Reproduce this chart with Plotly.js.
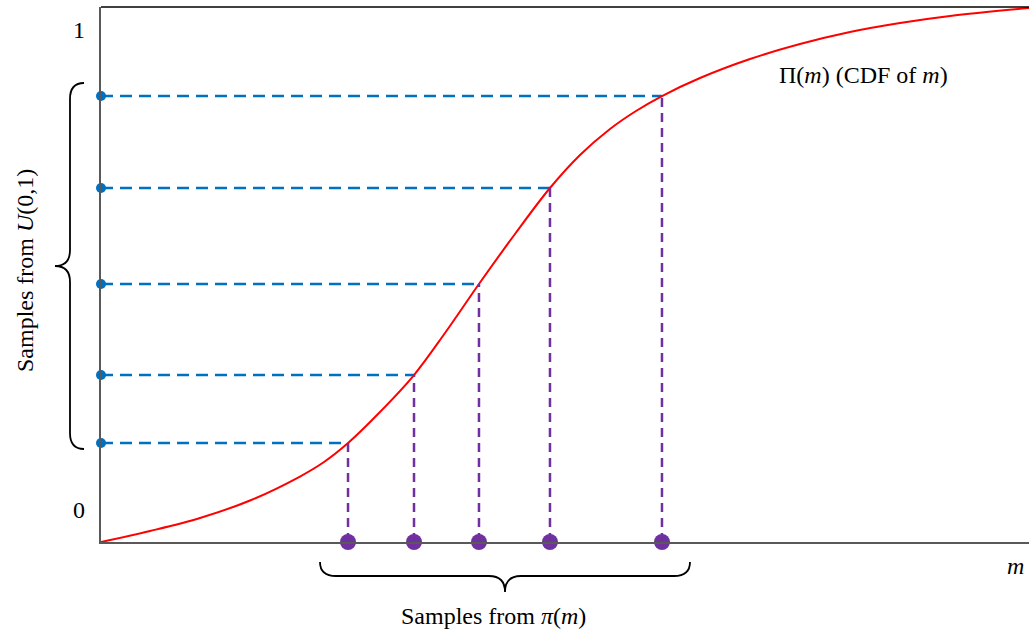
<!DOCTYPE html>
<html>
<head>
<meta charset="utf-8">
<script src="https://cdn.plot.ly/plotly-3.0.1.min.js"></script>
<style>html,body{margin:0;padding:0;background:#fff;}#chart{width:1029px;height:632px;}</style>
</head>
<body>
<div id="chart"></div>
<script>
// CDF curve Π(m), normalised m and Π(m)
const curveM   = [0, 0.0528, 0.1067, 0.1606, 0.2144, 0.2403, 0.2662, 0.3006, 0.3373, 0.3707, 0.4073, 0.4461, 0.4838, 0.5162, 0.5485, 0.5765, 0.6045, 0.6455, 0.6994, 0.7532, 0.8071, 0.8610, 0.9149, 1.0];
const curveCDF = [0, 0.0206, 0.0449, 0.0776, 0.1224, 0.1495, 0.1850, 0.2430, 0.3121, 0.3907, 0.4822, 0.5757, 0.6617, 0.7234, 0.7720, 0.8056, 0.8336, 0.8673, 0.9028, 0.9308, 0.9533, 0.9701, 0.9832, 0.9981];
// Samples from U(0,1) and their mapped samples from π(m)
const uSamples = [0.1850, 0.3121, 0.4822, 0.6617, 0.8336];
const mSamples = [0.2662, 0.3373, 0.4073, 0.4838, 0.6045];
// Labels
const yTickLabels = ["0", "1"];
const curveLabel = "Π(<i>m</i>) (CDF of <i>m</i>)";
const xAxisLabel = "<i>m</i>";
const bottomLabel = "Samples from <i>π</i>(<i>m</i>)";
const leftLabel = "Samples from <i>U</i>(0,1)";

const W = 1029, H = 632, L = 101, T = 7, B = 90, R = 0;
const PW = W - L - R, PH = H - T - B;
const px = v => (v - L) / PW;          // pixel x -> paper x
const py = v => (H - B - v) / PH;      // pixel y -> paper y

const hx = [], hy = [], vx = [], vy = [];
mSamples.forEach((m, i) => {
  hx.push(0, m, null); hy.push(uSamples[i], uSamples[i], null);
  vx.push(m, m, null); vy.push(0, uSamples[i], null);
});

const traces = [
  {x: hx, y: hy, mode: 'lines', line: {color: '#0070C0', width: 2.5, dash: '12px,7px'}, hoverinfo: 'skip', cliponaxis: false},
  {x: curveM, y: curveCDF, mode: 'lines', line: {color: '#FF0000', width: 2, shape: 'spline', smoothing: 1}, hoverinfo: 'skip'},
  {x: vx, y: vy, mode: 'lines', line: {color: '#7030A0', width: 2.5, dash: '9px,6px'}, hoverinfo: 'skip', cliponaxis: false},
  {x: uSamples.map(() => 0), y: uSamples, mode: 'markers', marker: {color: '#0070C0', size: 10}, cliponaxis: false, hoverinfo: 'skip'},
  {x: mSamples, y: mSamples.map(() => 0), mode: 'markers', marker: {color: '#7030A0', size: 16}, cliponaxis: false, hoverinfo: 'skip'}
];

function hBrace(x0, x1, y0, ym, yt, r) {
  const xm = (x0 + x1) / 2;
  const p = (a, b) => px(a).toFixed(5) + ',' + py(b).toFixed(5);
  return 'M' + p(x0, y0) + ' Q' + p(x0, ym) + ' ' + p(x0 + r, ym) +
         ' L' + p(xm - r, ym) + ' Q' + p(xm, ym) + ' ' + p(xm, yt) +
         ' Q' + p(xm, ym) + ' ' + p(xm + r, ym) +
         ' L' + p(x1 - r, ym) + ' Q' + p(x1, ym) + ' ' + p(x1, y0);
}
function vBrace(y0, y1, x0, xm, xt, r) {
  const ymid = (y0 + y1) / 2;
  const p = (a, b) => px(a).toFixed(5) + ',' + py(b).toFixed(5);
  return 'M' + p(x0, y0) + ' Q' + p(xm, y0) + ' ' + p(xm, y0 + r) +
         ' L' + p(xm, ymid - r) + ' Q' + p(xm, ymid) + ' ' + p(xt, ymid) +
         ' Q' + p(xm, ymid) + ' ' + p(xm, ymid + r) +
         ' L' + p(xm, y1 - r) + ' Q' + p(xm, y1) + ' ' + p(x0, y1);
}

const font = {family: '"Liberation Serif", "Times New Roman", serif', size: 24, color: '#000'};

const layout = {
  width: W, height: H,
  margin: {l: L, r: R, t: T, b: B, pad: 0},
  paper_bgcolor: '#fff', plot_bgcolor: '#fff',
  showlegend: false,
  xaxis: {range: [0, 1], showgrid: false, zeroline: false, showticklabels: false, ticks: '',
          showline: true, linecolor: '#595959', linewidth: 2, fixedrange: true},
  yaxis: {range: [0, 1], showgrid: false, zeroline: false, showticklabels: false, ticks: '',
          showline: true, linecolor: '#595959', linewidth: 2, fixedrange: true},
  shapes: [
    {type: 'line', xref: 'paper', yref: 'paper', x0: 0, x1: 1, y0: 1, y1: 1, line: {color: '#000', width: 1.5}},
    {type: 'path', xref: 'paper', yref: 'paper', path: hBrace(320, 690, 562, 576, 592, 16), line: {color: '#000', width: 1.8}},
    {type: 'path', xref: 'paper', yref: 'paper', path: vBrace(83, 449, 84, 70, 55, 16), line: {color: '#000', width: 1.8}}
  ],
  annotations: [
    {text: yTickLabels[1], xref: 'paper', yref: 'paper', x: px(79), y: py(30), showarrow: false, xanchor: 'center', yanchor: 'middle', font: font},
    {text: yTickLabels[0], xref: 'paper', yref: 'paper', x: px(79), y: py(510), showarrow: false, xanchor: 'center', yanchor: 'middle', font: font},
    {text: curveLabel, xref: 'paper', yref: 'paper', x: px(863), y: py(75), showarrow: false, xanchor: 'center', yanchor: 'middle', font: font},
    {text: xAxisLabel, xref: 'paper', yref: 'paper', x: px(1015), y: py(566), showarrow: false, xanchor: 'center', yanchor: 'middle', font: font},
    {text: bottomLabel, xref: 'paper', yref: 'paper', x: px(493), y: py(616), showarrow: false, xanchor: 'center', yanchor: 'middle', font: font},
    {text: leftLabel, xref: 'paper', yref: 'paper', x: px(25), y: py(271), showarrow: false, xanchor: 'center', yanchor: 'middle', textangle: -90, font: font}
  ]
};

Plotly.newPlot('chart', traces, layout, {staticPlot: true, displayModeBar: false});
</script>
</body>
</html>
